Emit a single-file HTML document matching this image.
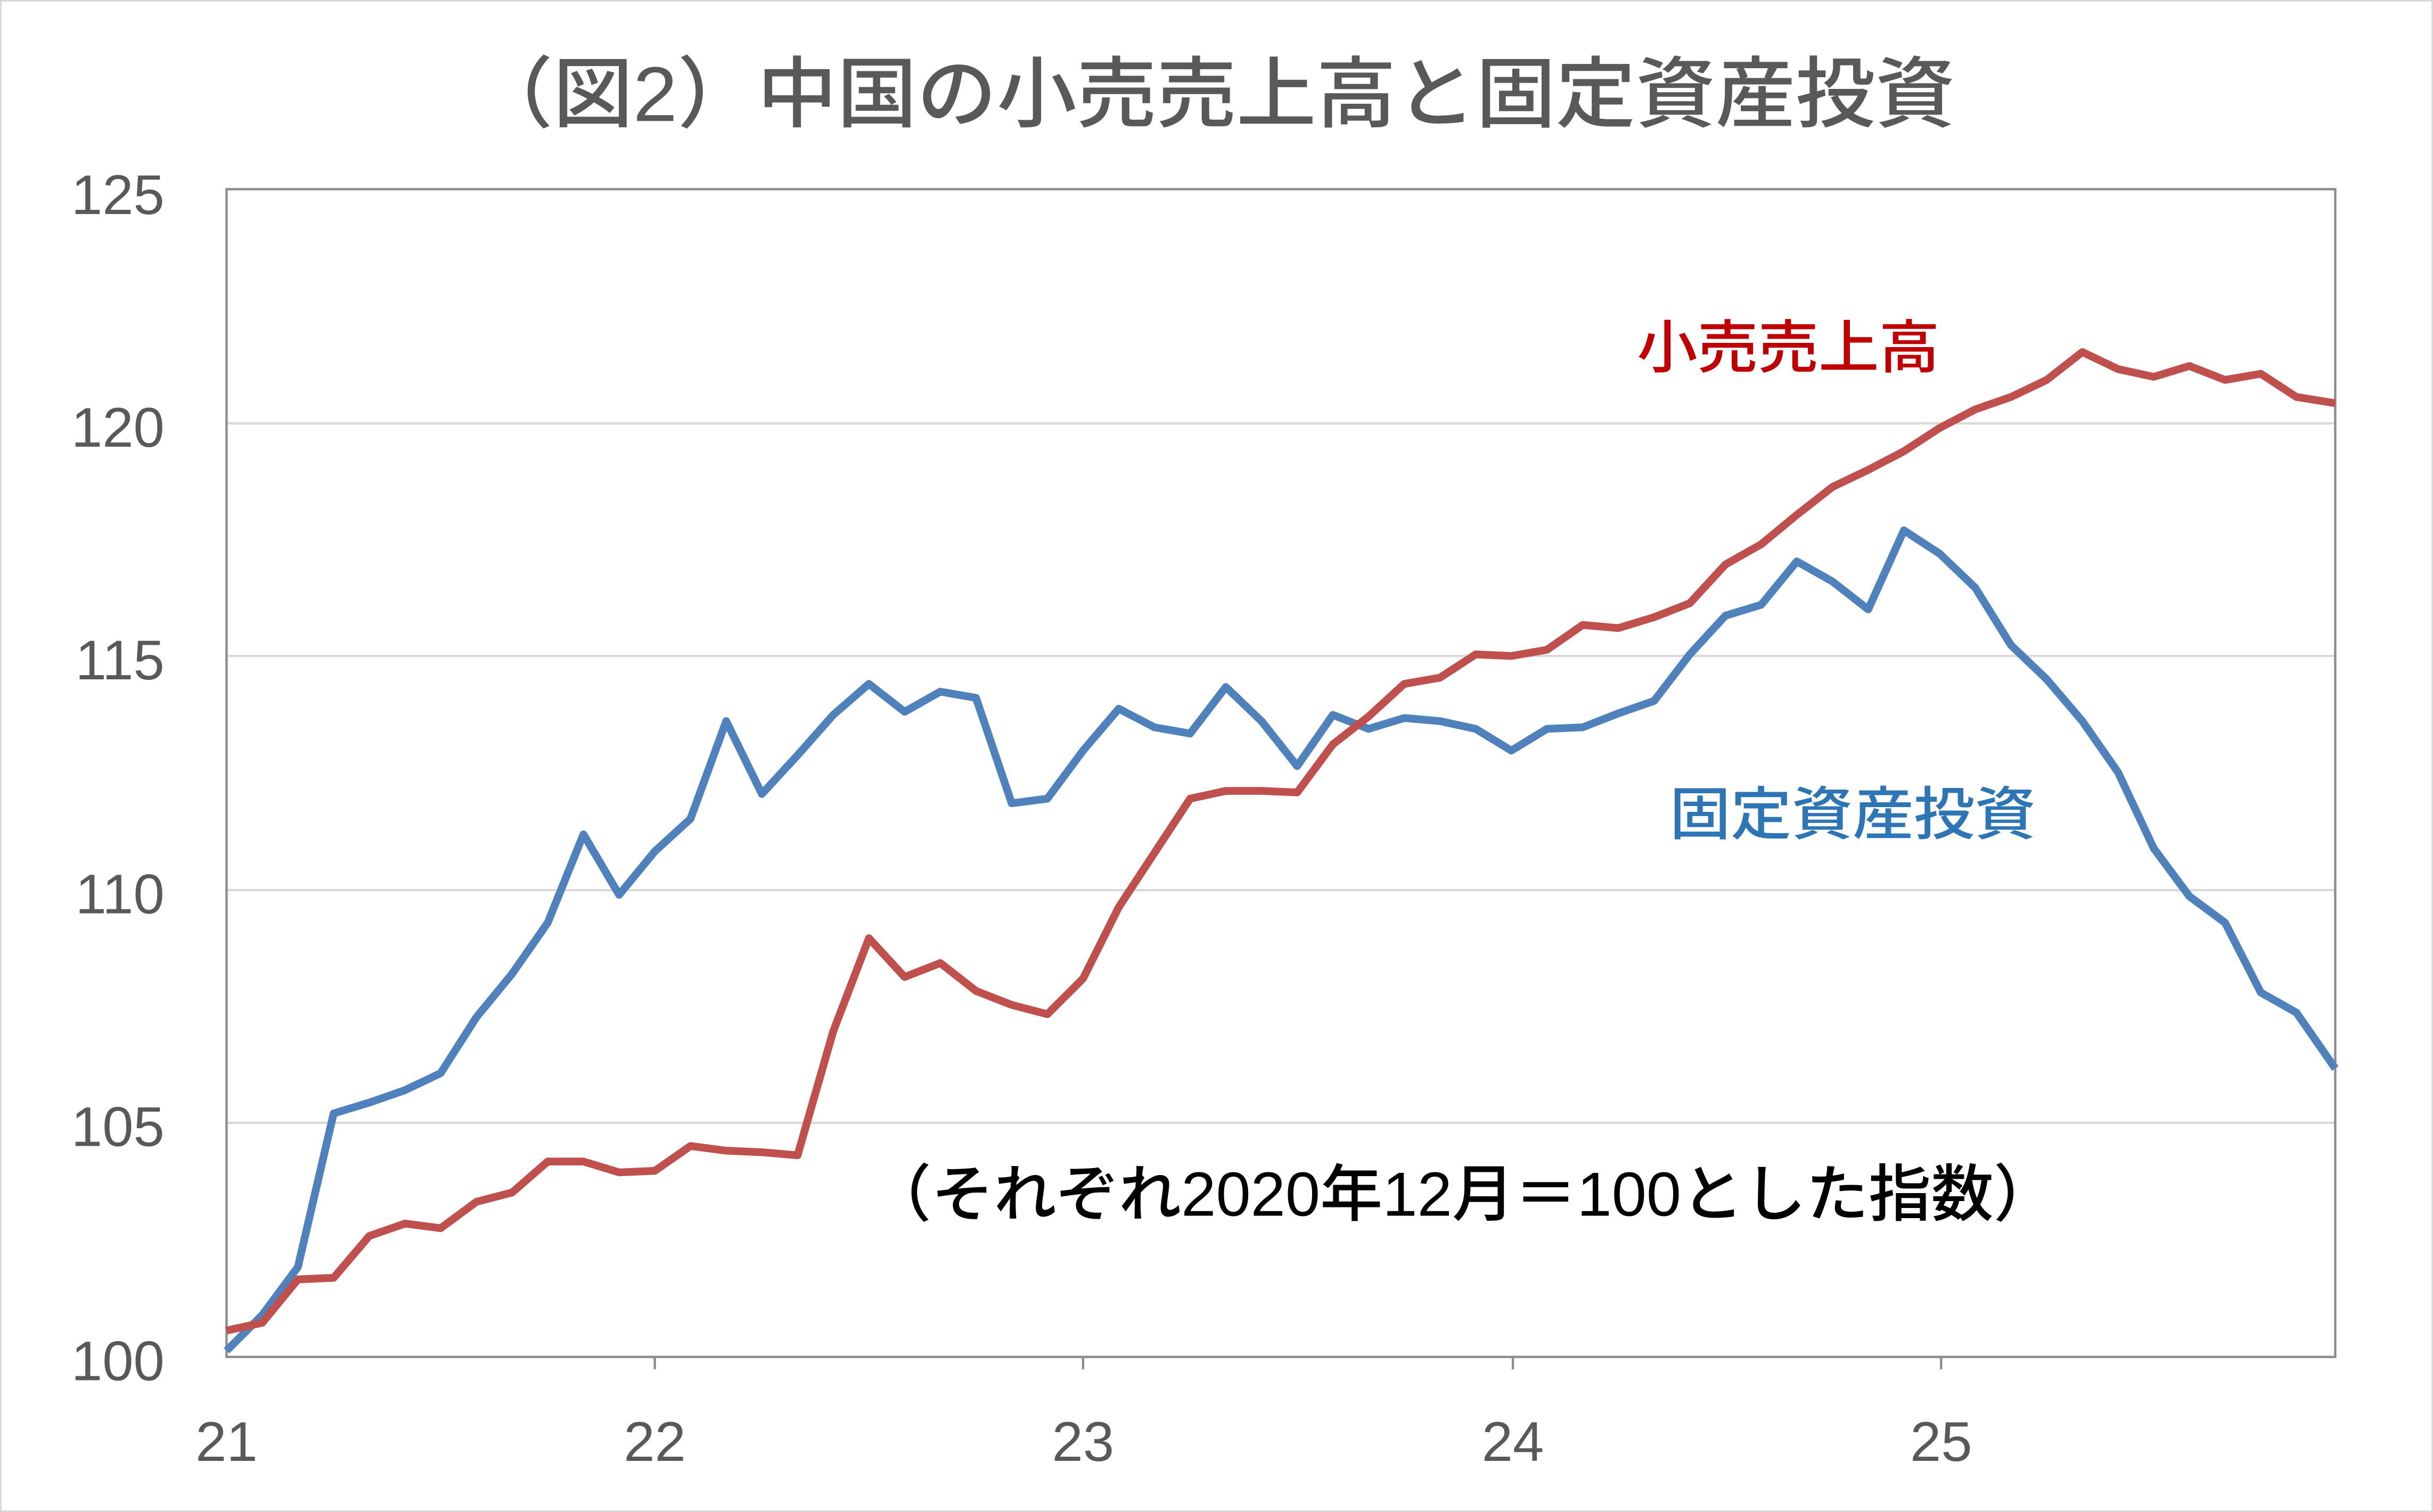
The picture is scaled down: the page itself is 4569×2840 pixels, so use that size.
<!DOCTYPE html>
<html><head><meta charset="utf-8"><style>
html,body{margin:0;padding:0;background:#fff;}
svg{display:block;}
text{font-family:"Liberation Sans","Noto Sans CJK JP",sans-serif;}
</style></head><body>
<svg width="4569" height="2840" viewBox="0 0 1568 975" preserveAspectRatio="none" xmlns="http://www.w3.org/2000/svg">
<rect x="0.5" y="0.5" width="1567" height="974" fill="#fff" stroke="#d9d9d9" stroke-width="1"/>
<text x="305" y="78" textLength="955" lengthAdjust="spacingAndGlyphs" font-size="50" font-weight="500" fill="#595959">（図2）中国の小売売上高と固定資産投資</text>
<g stroke="#d9d9d9" stroke-width="1.5">
<line x1="146" y1="273" x2="1505" y2="273"/>
<line x1="146" y1="423" x2="1505" y2="423"/>
<line x1="146" y1="574" x2="1505" y2="574"/>
<line x1="146" y1="724" x2="1505" y2="724"/>
</g>
<rect x="146" y="122" width="1359" height="753" fill="none" stroke="#8c8c8c" stroke-width="1.5"/>
<g stroke="#8c8c8c" stroke-width="1.5">
<line x1="422" y1="875" x2="422" y2="883"/><line x1="698" y1="875" x2="698" y2="883"/>
<line x1="975" y1="875" x2="975" y2="883"/><line x1="1251" y1="875" x2="1251" y2="883"/>
</g>
<g font-size="36" fill="#595959" text-anchor="end">
<text x="106" y="138">125</text><text x="106" y="288">120</text><text x="106" y="438">115</text>
<text x="106" y="589">110</text><text x="106" y="739">105</text><text x="106" y="890">100</text>
</g>
<g font-size="36" fill="#595959" text-anchor="middle">
<text x="146" y="942">21</text><text x="422" y="942">22</text><text x="698" y="942">23</text>
<text x="975" y="942">24</text><text x="1251" y="942">25</text>
</g>
<polyline fill="none" stroke="#4f81bd" stroke-width="5" stroke-linejoin="round" points="146,871 169,848 192,817 215,718 238,711 261,703 284,692 307,656 330,628 353,595 376,538 399,577 422,549 445,528 468,465 491,512 514,487 537,461 560,441 583,459 606,446 629,450 652,518 675,515 698,484 721,457 744,469 767,473 790,443 813,465 836,494 859,461 882,470 905,463 928,465 951,470 974,484 997,470 1020,469 1043,460 1066,452 1089,422 1112,397 1135,390 1158,362 1181,375 1204,393 1227,342 1250,357 1273,379 1296,416 1319,438 1342,465 1365,498 1388,547 1411,578 1434,595 1457,640 1480,653 1505,689"/>
<polyline fill="none" stroke="#c0504d" stroke-width="5" stroke-linejoin="round" points="146,858 169,853 192,825 215,824 238,797 261,789 284,792 307,775 330,769 353,749 376,749 399,756 422,755 445,739 468,742 491,743 514,745 537,665 560,605 583,630 606,621 629,639 652,648 675,654 698,631 721,585 744,550 767,515 790,510 813,510 836,511 859,480 882,462 905,441 928,437 951,422 974,423 997,419 1020,403 1043,405 1066,398 1089,389 1112,364 1135,351 1158,332 1181,314 1204,303 1227,291 1250,276 1273,264 1296,256 1319,245 1342,227 1365,238 1388,243 1411,236 1434,245 1457,241 1480,256 1505,260"/>
<text x="1055" y="237" textLength="195" lengthAdjust="spacingAndGlyphs" font-size="37" font-weight="500" fill="#c00000">小売売上高</text>
<text x="1076" y="538" textLength="236" lengthAdjust="spacingAndGlyphs" font-size="37" font-weight="500" fill="#2e75b6">固定資産投資</text>
<text x="560" y="784" textLength="765" lengthAdjust="spacingAndGlyphs" font-size="40" font-weight="500" fill="#000">（それぞれ2020年12月＝100とした指数）</text>
</svg>
</body></html>
